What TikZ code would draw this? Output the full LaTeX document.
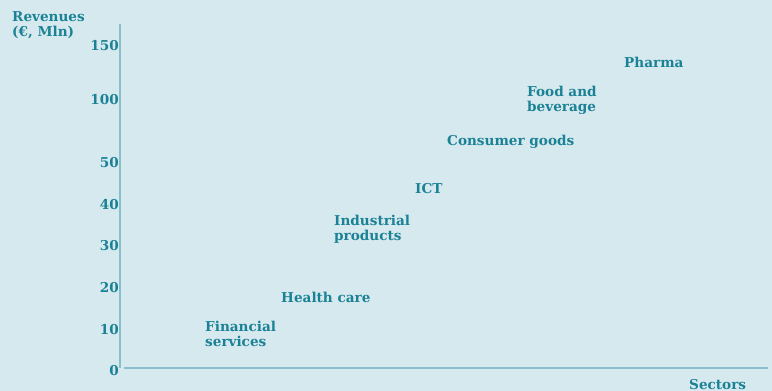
\documentclass[tikz,border=0pt]{standalone}
\usepackage{fontspec}
\setmainfont{DejaVu Serif}
\usetikzlibrary{positioning}
\definecolor{bgcol}{HTML}{D6E9EE}
\definecolor{txtcol}{HTML}{1B8296}
\definecolor{axiscol}{HTML}{86C1CB}
\begin{document}
\begin{tikzpicture}[x=1pt,y=-1pt,
  lbl/.style={font=\bfseries\fontsize{13.6}{15}\selectfont, text=txtcol, inner sep=0pt, align=left},
  axis/.style={draw=axiscol, line width=1.3pt}]
  \fill[bgcol] (0,0) rectangle (772,391);
  \useasboundingbox (0,0) rectangle (772,391);
  % axes
  \coordinate (ytop) at (120,24);
  \coordinate (origin) at (120,368);
  \coordinate (xstart) at (124,368);
  \coordinate (xend) at (768,368);
  \draw[axis] (ytop) -- (origin);
  \draw[axis] (xstart) -- (xend);
  % axis titles (base = last line)
  \node[lbl, anchor=base west] (ytitle) at (12,36) {Revenues\\(€, Mln)};
  \node[lbl, anchor=base west] (xtitle) at (689,389) {Sectors};
  % tick labels
  \foreach \v/\y in {150/50,100/104,50/167,40/209,30/250,20/292,10/334,0/375}
    \node[lbl, anchor=base east] (tick\v) at (119,\y) {\v};
  % sectors
  \node[lbl, anchor=base west] (finance) at (205,346) {Financial\\services};
  \node[lbl, anchor=base west] (health) at (281,302) {Health care};
  \node[lbl, anchor=base west] (industry) at (334,240) {Industrial\\products};
  \node[lbl, anchor=base west] (ict) at (415,193) {ICT};
  \node[lbl, anchor=base west] (consumer) at (447,145) {Consumer goods};
  \node[lbl, anchor=base west] (food) at (527,111) {Food and\\beverage};
  \node[lbl, anchor=base west] (pharma) at (624,67) {Pharma};
\end{tikzpicture}
\end{document}
